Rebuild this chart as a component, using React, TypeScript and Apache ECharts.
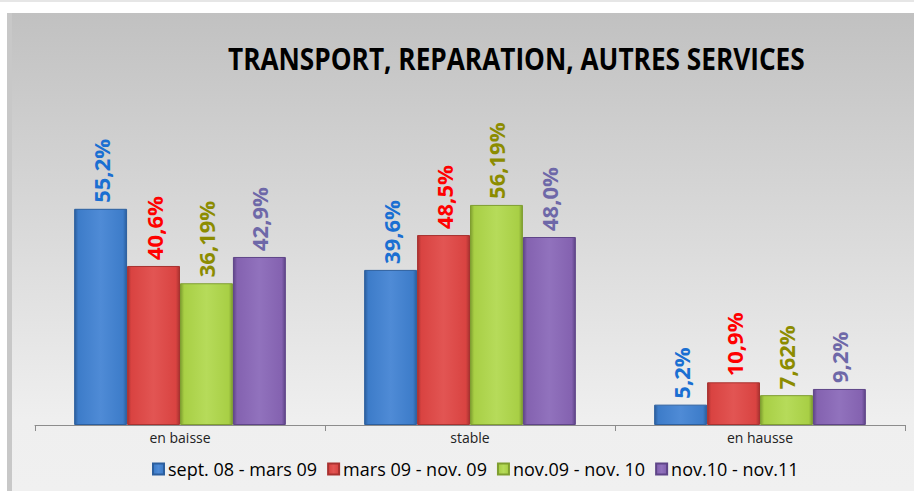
import React, { useEffect, useRef } from "react";
import * as echarts from "echarts";

const categories = ["en baisse", "stable", "en hausse"];
const seriesNames = ["sept. 08 - mars 09", "mars 09 - nov. 09", "nov.09 - nov. 10", "nov.10 - nov.11"];
const sept08Mars09 = [55.2, 39.6, 5.2];
const mars09Nov09 = [40.6, 48.5, 10.9];
const nov09Nov10 = [36.19, 56.19, 7.62];
const nov10Nov11 = [42.9, 48.0, 9.2];
const labelTexts = [
  ["55,2%", "39,6%", "5,2%"],
  ["40,6%", "48,5%", "10,9%"],
  ["36,19%", "56,19%", "7,62%"],
  ["42,9%", "48,0%", "9,2%"],
];
const titleText = "TRANSPORT, REPARATION, AUTRES SERVICES";

const barColors = [
  { dark: "#2c5f9e", base: "#3d7cc9", light: "#4f8bd6", label: "#1a6fd2" },
  { dark: "#a83230", base: "#d94341", light: "#e25553", label: "#ff0000" },
  { dark: "#7f9e30", base: "#a8cf45", light: "#b6db5a", label: "#8c8c00" },
  { dark: "#5f4588", base: "#8462b0", light: "#9172bd", label: "#6e68a8" },
];

export default function App() {
  const ref = useRef<HTMLDivElement>(null);
  useEffect(() => {
    document.body.style.margin = "0";
    if (!ref.current) return;
    const chart = echarts.init(ref.current, null, { renderer: "svg" });

    const titleFont = "bold 30px 'Open Sans'";
    const cv = document.createElement("canvas").getContext("2d");
    let titleScale = 0.82;
    if (cv) {
      cv.font = titleFont;
      const w = cv.measureText(titleText).width;
      if (w > 0) titleScale = 577 / w;
    }

    const data = [sept08Mars09, mars09Nov09, nov09Nov10, nov10Nov11];
    const series = data.map((vals, i) => ({
      name: seriesNames[i],
      type: "bar",
      data: vals,
      barGap: "0%",
      barCategoryGap: "27%",
      itemStyle: {
        color: new echarts.graphic.LinearGradient(0, 0, 1, 0, [
          { offset: 0, color: barColors[i].dark },
          { offset: 0.07, color: barColors[i].base },
          { offset: 0.5, color: barColors[i].light },
          { offset: 0.93, color: barColors[i].base },
          { offset: 1, color: barColors[i].dark },
        ]),
        borderColor: barColors[i].dark,
        borderWidth: 1,
      },
      label: {
        show: true,
        position: "top",
        rotate: 90,
        align: "left",
        verticalAlign: "middle",
        distance: 6,
        color: barColors[i].label,
        fontFamily: "Open Sans",
        fontWeight: "bold",
        fontSize: 22,
        formatter: (p: any) => labelTexts[i][p.dataIndex],
      },
    }));
    chart.setOption({
      animation: false,
      graphic: [
        { type: "rect", z: -10, shape: { x: 0, y: 0, width: 914, height: 491 }, style: { fill: "#ffffff" } },
        { type: "rect", z: -9, shape: { x: 0, y: 0, width: 914, height: 2 }, style: { fill: "#e6e6e6" } },
        {
          type: "rect",
          z: -9,
          shape: { x: 7, y: 13, width: 907, height: 478 },
          style: {
            fill: new echarts.graphic.LinearGradient(0, 0, 0, 1, [
              { offset: 0, color: "#c1c1c1" },
              { offset: 0.85, color: "#efefef" },
              { offset: 1, color: "#f0f0f0" },
            ]),
          },
        },
        { type: "rect", z: -8, shape: { x: 7, y: 13, width: 5, height: 478 }, style: { fill: "#c8c8c8" } },
        {
          type: "text",
          z: 10,
          x: 228,
          y: 58,
          scaleX: titleScale,
          style: {
            text: titleText,
            font: titleFont,
            fill: "#000",
            align: "left",
            verticalAlign: "middle",
          },
        },
      ],
      legend: {
        top: 455,
        left: 147,
        icon: "rect",
        itemWidth: 11,
        itemHeight: 11,
        itemGap: 10,
        textStyle: { fontFamily: "Open Sans", fontSize: 18, color: "#000", padding: [0, 0, 0, -1] },
        data: seriesNames,
      },
      grid: { left: 35, right: 9, top: 190, bottom: 66 },
      xAxis: {
        type: "category",
        data: categories,
        axisLine: { lineStyle: { color: "#8c8c8c", width: 1 } },
        axisTick: { show: true, length: 6, lineStyle: { color: "#8c8c8c" } },
        axisLabel: { fontFamily: "Open Sans", fontSize: 14, color: "#222", margin: 5 },
      },
      yAxis: { type: "value", min: 0, max: 60, show: false, splitLine: { show: false } },
      series,
    });
    return () => chart.dispose();
  }, []);
  return <div ref={ref} style={{ position: "absolute", left: 0, top: 0, width: 914, height: 491 }} />;
}
